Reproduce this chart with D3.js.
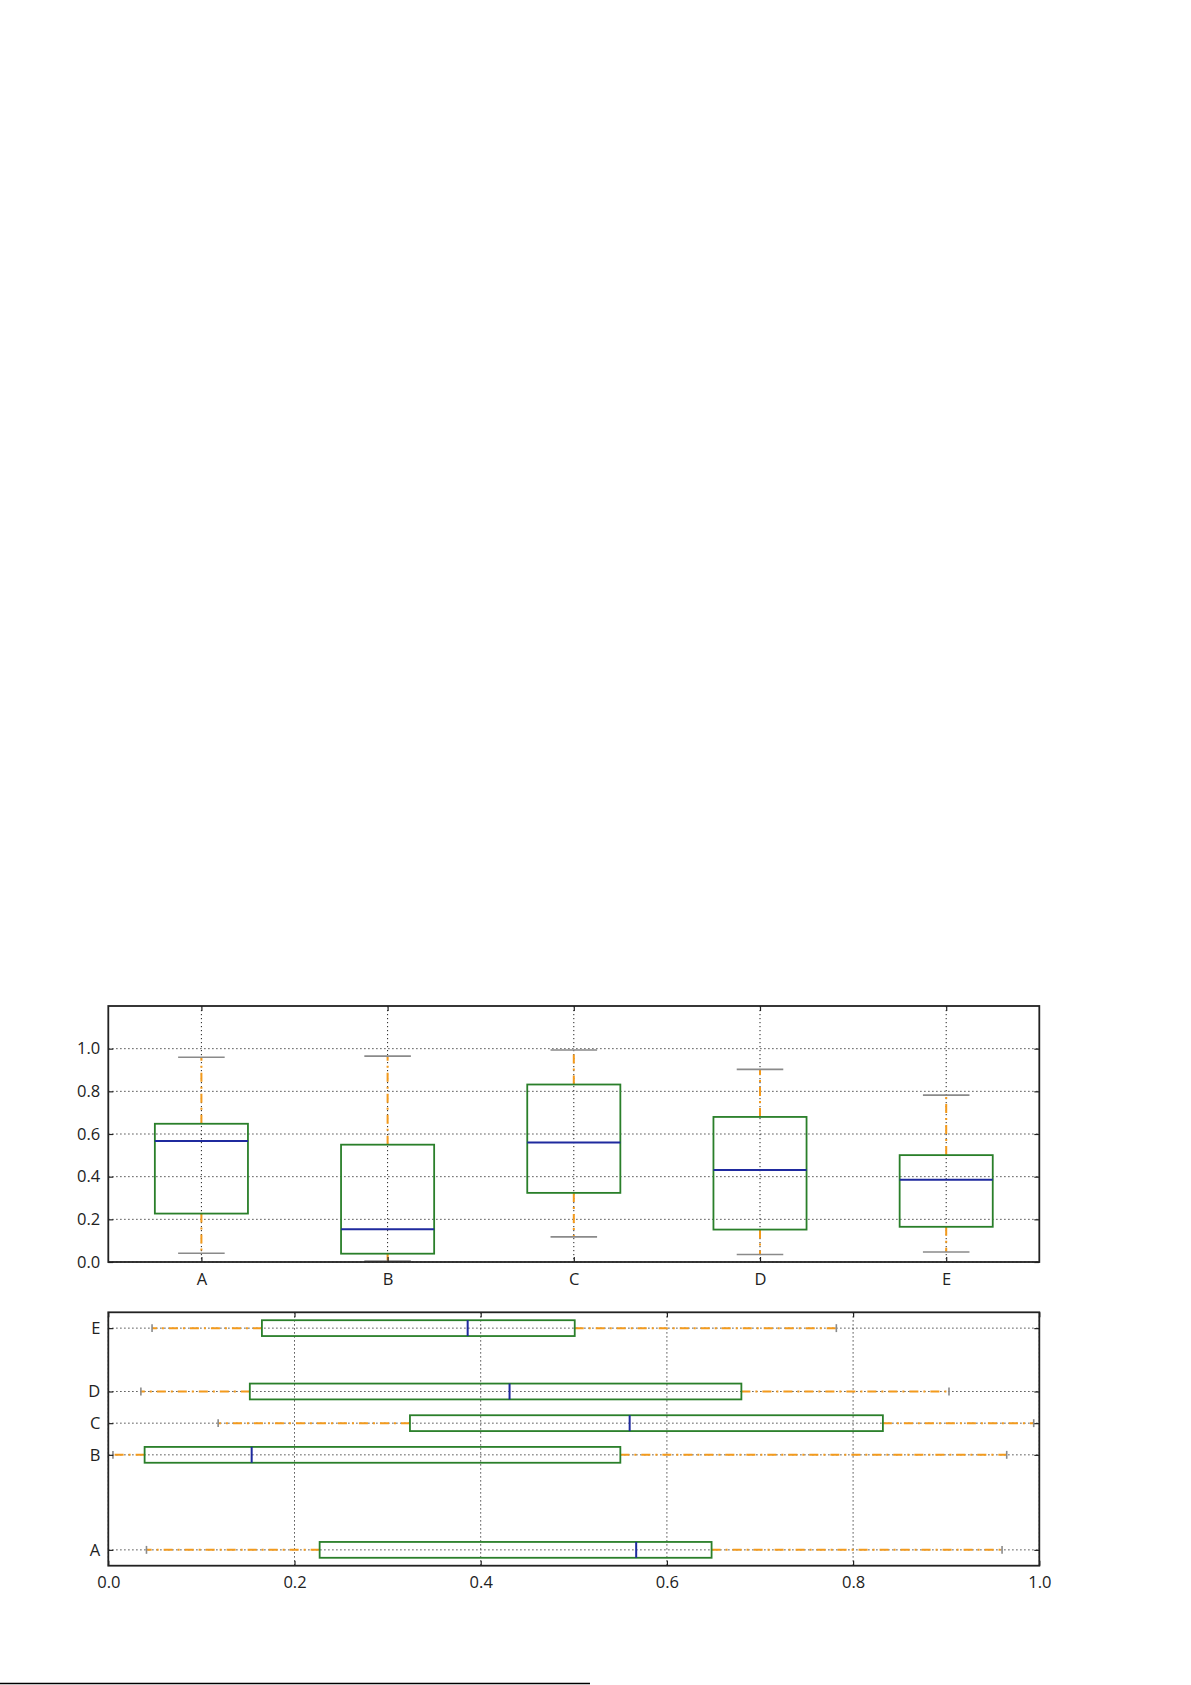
<!DOCTYPE html>
<html>
<head>
<meta charset="utf-8">
<script src="https://cdn.jsdelivr.net/npm/d3@7"></script>
<style>
  html, body { margin: 0; padding: 0; background: #fff; }
  svg { display: block; }
  text { font-family: "Open Sans", "Noto Sans", sans-serif; font-size: 16.5px; fill: #222; }
</style>
</head>
<body>
<script>
// ---- data ----
const categories = ["A", "B", "C", "D", "E"];
const whiskerLow  = [0.041, 0.005, 0.118, 0.035, 0.047];
const q1Values    = [0.227, 0.039, 0.324, 0.152, 0.165];
const medians     = [0.567, 0.154, 0.560, 0.431, 0.386];
const q3Values    = [0.648, 0.550, 0.832, 0.680, 0.501];
const whiskerHigh = [0.960, 0.965, 0.994, 0.903, 0.782];
const positionsVertical = [1, 2, 3, 4, 5];
const positionsHorizontal = [1, 4, 5, 6, 8];
const valueTicksTop = [0.0, 0.2, 0.4, 0.6, 0.8, 1.0];
const valueTicksBottom = [0.0, 0.2, 0.4, 0.6, 0.8, 1.0];

const stats = categories.map((c, i) => ({
  name: c, lo: whiskerLow[i], q1: q1Values[i], med: medians[i], q3: q3Values[i], hi: whiskerHigh[i],
  pv: positionsVertical[i], ph: positionsHorizontal[i]
}));

// ---- styles ----
const W = 1191, H = 1685;
const COL_BOX = "#2a7f2a", COL_MED = "#1f2a9e", COL_WHISK = "#f39a1c", COL_CAP = "#8a8a8a";
const GRID_DASH = "1.2,2.8", WHISK_DASH = "9,5,2,5";
const TICK = 5;

const svg = d3.select("body").append("svg").attr("width", W).attr("height", H);

function styleAxis(g) {
  g.select(".domain").remove();
  g.selectAll(".tick line").attr("stroke", "#222").attr("stroke-width", 1.2);
  g.selectAll("text").attr("fill", "#222").style("font-size", "16.5px").style("font-family", '"Open Sans", sans-serif');
}

// ---------- top (vertical) ----------
const T = {left: 108.3, right: 1039.3, top: 1006, bottom: 1262};
const xV = d3.scaleLinear().domain([0.5, 5.5]).range([T.left, T.right]);
const yV = d3.scaleLinear().domain([0, 1.2]).range([T.bottom, T.top]);
const gT = svg.append("g");

gT.selectAll(".hg").data(valueTicksTop).join("line")
  .attr("x1", T.left).attr("x2", T.right).attr("y1", d => yV(d)).attr("y2", d => yV(d))
  .attr("stroke", "#222").attr("stroke-width", 1).attr("stroke-dasharray", GRID_DASH);
gT.selectAll(".vg").data(positionsVertical).join("line")
  .attr("x1", d => xV(d)).attr("x2", d => xV(d)).attr("y1", T.top).attr("y2", T.bottom)
  .attr("stroke", "#222").attr("stroke-width", 1).attr("stroke-dasharray", GRID_DASH);

const boxW = 0.5, capW = 0.25;
gT.selectAll(".wu").data(stats).join("line")
  .attr("x1", d => xV(d.pv)).attr("x2", d => xV(d.pv)).attr("y1", d => yV(d.q3)).attr("y2", d => yV(d.hi))
  .attr("stroke", COL_WHISK).attr("stroke-width", 2).attr("stroke-dasharray", WHISK_DASH);
gT.selectAll(".wl").data(stats).join("line")
  .attr("x1", d => xV(d.pv)).attr("x2", d => xV(d.pv)).attr("y1", d => yV(d.q1)).attr("y2", d => yV(d.lo))
  .attr("stroke", COL_WHISK).attr("stroke-width", 2).attr("stroke-dasharray", WHISK_DASH);
["hi", "lo"].forEach(k => {
  gT.selectAll(".cap" + k).data(stats).join("line")
    .attr("x1", d => xV(d.pv - capW / 2)).attr("x2", d => xV(d.pv + capW / 2))
    .attr("y1", d => yV(d[k])).attr("y2", d => yV(d[k]))
    .attr("stroke", COL_CAP).attr("stroke-width", 1.6);
});
gT.selectAll(".box").data(stats).join("rect")
  .attr("x", d => xV(d.pv - boxW / 2)).attr("width", d => xV(d.pv + boxW / 2) - xV(d.pv - boxW / 2))
  .attr("y", d => yV(d.q3)).attr("height", d => yV(d.q1) - yV(d.q3))
  .attr("fill", "none").attr("stroke", COL_BOX).attr("stroke-width", 1.8);
gT.selectAll(".med").data(stats).join("line")
  .attr("x1", d => xV(d.pv - boxW / 2)).attr("x2", d => xV(d.pv + boxW / 2))
  .attr("y1", d => yV(d.med)).attr("y2", d => yV(d.med))
  .attr("stroke", COL_MED).attr("stroke-width", 2);

const axL = d3.axisLeft(yV).tickValues(valueTicksTop).tickFormat(d3.format(".1f")).tickSizeInner(-TICK).tickSizeOuter(0).tickPadding(TICK + 3);
const axR = d3.axisRight(yV).tickValues(valueTicksTop).tickFormat("").tickSizeInner(-TICK).tickSizeOuter(0);
const axB = d3.axisBottom(xV).tickValues(positionsVertical).tickFormat((d, i) => categories[i]).tickSizeInner(-TICK).tickSizeOuter(0).tickPadding(TICK + 6);
const axTp = d3.axisTop(xV).tickValues(positionsVertical).tickFormat("").tickSizeInner(-TICK).tickSizeOuter(0);
gT.append("g").attr("transform", `translate(${T.left},0)`).call(axL).call(styleAxis);
gT.append("g").attr("transform", `translate(${T.right},0)`).call(axR).call(styleAxis);
gT.append("g").attr("transform", `translate(0,${T.bottom})`).call(axB).call(styleAxis);
gT.append("g").attr("transform", `translate(0,${T.top})`).call(axTp).call(styleAxis);
gT.append("rect").attr("x", T.left).attr("y", T.top).attr("width", T.right - T.left).attr("height", T.bottom - T.top)
  .attr("fill", "none").attr("stroke", "#222").attr("stroke-width", 1.8);

// ---------- bottom (horizontal) ----------
const B = {left: 108.3, right: 1039.3, top: 1312.3, bottom: 1565.7};
const xH = d3.scaleLinear().domain([0, 1]).range([B.left, B.right]);
const yH = d3.scaleLinear().domain([0.5, 8.5]).range([B.bottom, B.top]);
const gB = svg.append("g");

gB.selectAll(".vg").data(valueTicksBottom).join("line")
  .attr("x1", d => xH(d)).attr("x2", d => xH(d)).attr("y1", B.top).attr("y2", B.bottom)
  .attr("stroke", "#222").attr("stroke-width", 1).attr("stroke-dasharray", GRID_DASH);
gB.selectAll(".hg").data(positionsHorizontal).join("line")
  .attr("x1", B.left).attr("x2", B.right).attr("y1", d => yH(d)).attr("y2", d => yH(d))
  .attr("stroke", "#222").attr("stroke-width", 1).attr("stroke-dasharray", GRID_DASH);

gB.selectAll(".wu").data(stats).join("line")
  .attr("y1", d => yH(d.ph)).attr("y2", d => yH(d.ph)).attr("x1", d => xH(d.q3)).attr("x2", d => xH(d.hi))
  .attr("stroke", COL_WHISK).attr("stroke-width", 2).attr("stroke-dasharray", WHISK_DASH);
gB.selectAll(".wl").data(stats).join("line")
  .attr("y1", d => yH(d.ph)).attr("y2", d => yH(d.ph)).attr("x1", d => xH(d.q1)).attr("x2", d => xH(d.lo))
  .attr("stroke", COL_WHISK).attr("stroke-width", 2).attr("stroke-dasharray", WHISK_DASH);
["hi", "lo"].forEach(k => {
  gB.selectAll(".cap" + k).data(stats).join("line")
    .attr("y1", d => yH(d.ph - capW / 2)).attr("y2", d => yH(d.ph + capW / 2))
    .attr("x1", d => xH(d[k])).attr("x2", d => xH(d[k]))
    .attr("stroke", COL_CAP).attr("stroke-width", 1.6);
});
gB.selectAll(".box").data(stats).join("rect")
  .attr("x", d => xH(d.q1)).attr("width", d => xH(d.q3) - xH(d.q1))
  .attr("y", d => yH(d.ph + boxW / 2)).attr("height", d => yH(d.ph - boxW / 2) - yH(d.ph + boxW / 2))
  .attr("fill", "none").attr("stroke", COL_BOX).attr("stroke-width", 1.8);
gB.selectAll(".med").data(stats).join("line")
  .attr("y1", d => yH(d.ph - boxW / 2)).attr("y2", d => yH(d.ph + boxW / 2))
  .attr("x1", d => xH(d.med)).attr("x2", d => xH(d.med))
  .attr("stroke", COL_MED).attr("stroke-width", 2);

const bL = d3.axisLeft(yH).tickValues(positionsHorizontal).tickFormat((d, i) => categories[i]).tickSizeInner(-TICK).tickSizeOuter(0).tickPadding(TICK + 3);
const bR = d3.axisRight(yH).tickValues(positionsHorizontal).tickFormat("").tickSizeInner(-TICK).tickSizeOuter(0);
const bB = d3.axisBottom(xH).tickValues(valueTicksBottom).tickFormat(d3.format(".1f")).tickSizeInner(-TICK).tickSizeOuter(0).tickPadding(TICK + 6);
const bT = d3.axisTop(xH).tickValues(valueTicksBottom).tickFormat("").tickSizeInner(-TICK).tickSizeOuter(0);
gB.append("g").attr("transform", `translate(${B.left},0)`).call(bL).call(styleAxis);
gB.append("g").attr("transform", `translate(${B.right},0)`).call(bR).call(styleAxis);
gB.append("g").attr("transform", `translate(0,${B.bottom})`).call(bB).call(styleAxis);
gB.append("g").attr("transform", `translate(0,${B.top})`).call(bT).call(styleAxis);
gB.append("rect").attr("x", B.left).attr("y", B.top).attr("width", B.right - B.left).attr("height", B.bottom - B.top)
  .attr("fill", "none").attr("stroke", "#222").attr("stroke-width", 1.8);

// page bottom rule
svg.append("line").attr("x1", 0).attr("x2", 590).attr("y1", 1683.5).attr("y2", 1683.5)
  .attr("stroke", "#000").attr("stroke-width", 1.5);
</script>
</body>
</html>
